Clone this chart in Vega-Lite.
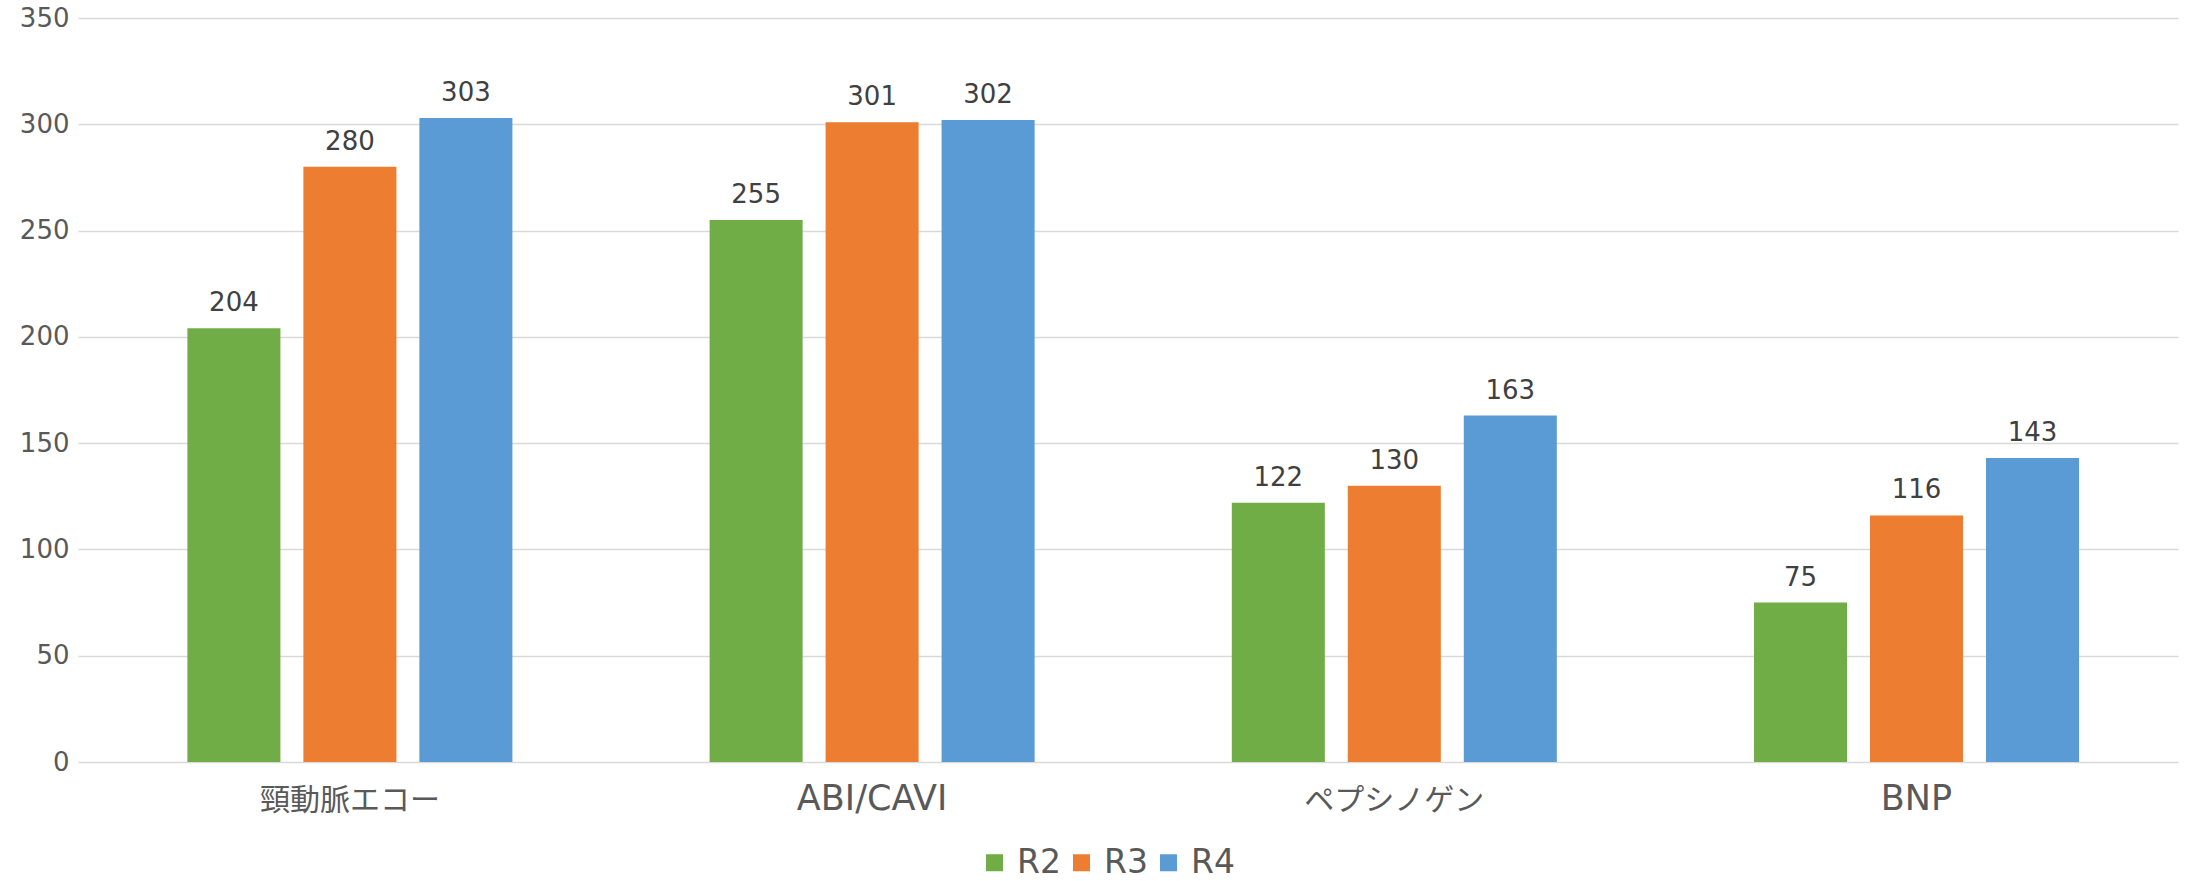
{
  "$schema": "https://vega.github.io/schema/vega-lite/v6.json",
  "width": 2100,
  "height": 744,
  "autosize": "none",
  "padding": {"left": 78, "top": 18, "right": 10, "bottom": 119},
  "background": "white",
  "config": {"view": {"stroke": null}, "font": "DejaVu Sans"},
  "data": {
    "values": [
      {"category": "頸動脈エコー", "series": "R2", "value": 204},
      {"category": "頸動脈エコー", "series": "R3", "value": 280},
      {"category": "頸動脈エコー", "series": "R4", "value": 303},
      {"category": "ABI/CAVI", "series": "R2", "value": 255},
      {"category": "ABI/CAVI", "series": "R3", "value": 301},
      {"category": "ABI/CAVI", "series": "R4", "value": 302},
      {"category": "ペプシノゲン", "series": "R2", "value": 122},
      {"category": "ペプシノゲン", "series": "R3", "value": 130},
      {"category": "ペプシノゲン", "series": "R4", "value": 163},
      {"category": "BNP", "series": "R2", "value": 75},
      {"category": "BNP", "series": "R3", "value": 116},
      {"category": "BNP", "series": "R4", "value": 143}
    ]
  },
  "encoding": {
    "x": {
      "field": "category",
      "type": "nominal",
      "sort": ["頸動脈エコー", "ABI/CAVI", "ペプシノゲン", "BNP"],
      "scale": {"paddingInner": 0.3776, "paddingOuter": 0.1995, "align": 0.525},
      "axis": {
        "title": null,
        "domain": false,
        "ticks": false,
        "tickSize": 0,
        "grid": false,
        "labelAngle": 0,
        "labelPadding": 47,
        "labelBaseline": "alphabetic",
        "labelFont": "DejaVu Sans, Noto Sans CJK JP",
        "labelFontSize": {"condition": {"test": "test(/^[A-Za-z]/, datum.value)", "value": 35}, "value": 30},
        "labelColor": "#595959"
      }
    },
    "xOffset": {
      "field": "series",
      "type": "nominal",
      "sort": ["R2", "R3", "R4"],
      "scale": {"paddingInner": 0.198, "paddingOuter": 0}
    },
    "y": {
      "field": "value",
      "type": "quantitative",
      "scale": {"domain": [0, 350], "nice": false},
      "axis": {
        "title": null,
        "domain": false,
        "ticks": false,
        "tickSize": 0,
        "values": [0, 50, 100, 150, 200, 250, 300, 350],
        "labelPadding": 9,
        "labelFontSize": 26,
        "labelColor": "#595959",
        "gridColor": "#D9D9D9",
        "gridWidth": 1.5
      }
    }
  },
  "layer": [
    {
      "mark": {"type": "bar"},
      "encoding": {
        "color": {
          "field": "series",
          "type": "nominal",
          "scale": {"domain": ["R2", "R3", "R4"], "range": ["#70AD47", "#ED7D31", "#5B9BD5"]},
          "legend": {
            "title": null,
            "orient": "none",
            "legendX": 900,
            "legendY": 828,
            "direction": "horizontal",
            "symbolType": "square",
            "symbolSize": 289,
            "symbolStrokeWidth": 0,
            "symbolOpacity": 1,
            "labelFontSize": 33,
            "labelColor": "#595959",
            "labelOffset": 6,
            "columnPadding": 4,
            "padding": 0
          }
        }
      }
    },
    {
      "mark": {"type": "text", "baseline": "alphabetic", "dy": -17, "fontSize": 26, "color": "#404040"},
      "encoding": {"text": {"field": "value", "type": "quantitative"}}
    }
  ]
}
